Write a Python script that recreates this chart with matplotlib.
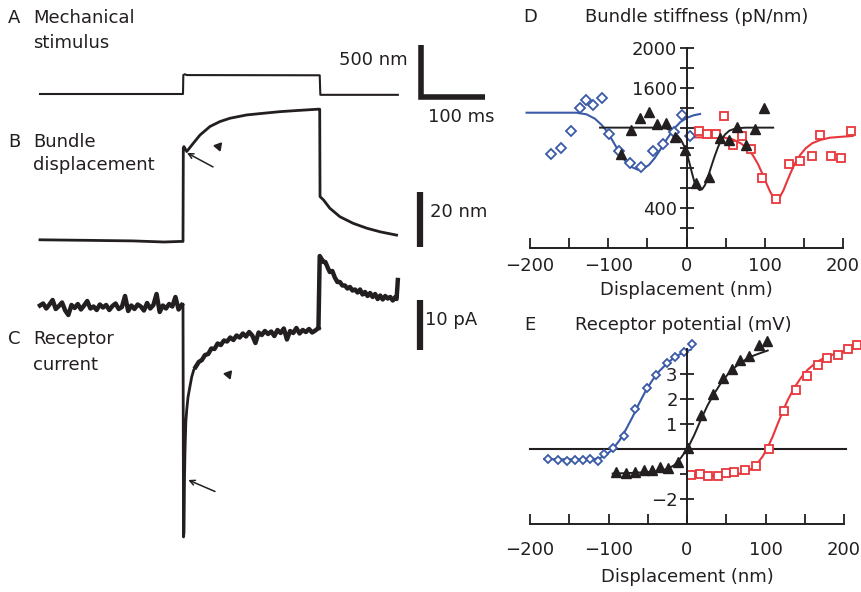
import numpy as np
import matplotlib
matplotlib.use("Agg")
import matplotlib.pyplot as plt

W, H = 862, 592
INK = "#231f20"
BLUE = "#3a5aa8"
RED = "#e8373c"

# ---------------- traces A-C (time in ms, step from 0 to 217 ms) ----------------
stim_t = [-227, 0, 0.5, 3, 6, 217, 218, 341]
stim_nm = [0, 0, 182, 190, 182, 180, -8, -8]

bundle_t = [-227, -150, -80, -30, -5, 0, 0.5, 1.5, 5.9, 16.3, 27, 42.8, 58.7, 74.6, 101,
            127, 154, 180, 215, 217, 217.5, 223, 233, 249, 270, 292, 313, 339]
bundle_nm = [0.8, 0.6, 0.4, 0.0, 0.2, 0.2, 34.2, 34.7, 32.9, 35.9, 38.9, 42.0, 43.8, 45.0, 46.2,
             46.8, 47.4, 47.8, 48.3, 48.3, 16.5, 15.3, 12.3, 9.2, 6.8, 5.0, 3.7, 2.5]

# receptor current (pA)
cur_base = [0.3, 0.7, -0.3, 0.5, 1.4, -0.4, 0.2, 0.9, -0.7, -1.6, 0.4, -0.2, 0.6, -0.5, 0.3,
            1.2, -0.3, 0.1, -0.6, 0.5, -0.1, 0.4, -0.6, 0.2, 0.7, -0.4, 0.0, 2.2, -0.8, 0.3,
            -0.4, 0.5, 0.1, -0.7, 0.8, -0.3, 0.4, 2.6, -1.0, 0.3, -0.3, 0.6, 0.1, 2.0, -0.5, 0.4]
cur_on_t = [-2, 0, 0.8, 1.6, 2.4, 3.2, 4.5, 5.9, 8, 10, 13.8, 17, 20]
cur_on = [0.4, 0.6, -46.0, -45.0, -34.0, -28.7, -23.0, -20.6, -18.0, -16.6, -14.0, -12.6, -12.0]
cur_plat = [-12.0, -11.0, -10.6, -9.6, -9.4, -8.3, -8.4, -7.3, -7.6, -6.7, -6.9, -6.1, -6.6,
            -5.7, -6.1, -5.3, -5.9, -5.0, -5.7, -7.2, -5.1, -5.6, -4.8, -5.4, -4.9, -5.8, -4.6,
            -5.2, -4.3, -6.5, -4.8, -5.2, -4.2, -5.3, -4.6, -5.0, -4.4, -5.1, -4.7, -4.2]
cur_off_t = [215, 217, 220, 223, 226, 230, 233, 237, 241, 245, 249, 253, 257, 261, 265, 269, 273,
             277, 281, 285, 289, 293, 297, 301, 305, 309, 313, 317, 321, 325, 329, 333, 337, 339, 341]
cur_off = [-4.2, 10.2, 9.6, 9.0, 9.0, 7.8, 7.0, 7.2, 5.9, 5.0, 5.0, 4.3, 4.3, 3.7, 4.0, 3.3, 3.5,
           2.9, 3.5, 2.5, 3.0, 2.2, 2.8, 2.0, 2.6, 1.6, 2.3, 1.5, 2.2, 1.7, 2.0, 1.3, 2.0, 1.6, 5.4]

# ---------------- D: bundle stiffness (pN/nm) ----------------
d_blue_x = [-172.9, -159.8, -147.6, -136.7, -127.9, -119.2, -108.3, -98.7, -86.5, -72.5,
            -58.1, -42.8, -29.7, -16.6, -5.7, 5.0]
d_blue_y = [940, 1000, 1173, 1395, 1478, 1429, 1495, 1140, 973, 847, 814, 973, 1040, 1163, 1329, 1120]
d_blue_fx = [-204.4, -173.8, -141.0, -127.9, -117.0, -108.3, -100.4, -93.0, -85.6, -78.6, -71.2,
             -62.4, -55.9, -48.0, -40.6, -33.2, -25.3, -16.6, -7.9, 0.8, 9.1, 17.4]
d_blue_fy = [1352, 1352, 1352, 1336, 1292, 1229, 1153, 1053, 953, 874, 814, 784, 791, 831, 900,
             987, 1086, 1186, 1259, 1302, 1326, 1339]

d_blk_x = [-83.4, -71.2, -59.4, -48.5, -37.6, -26.2, -14.4, -1.3, 12.4, 29.0, 42.3, 54.8, 65.1,
           75.5, 88.0, 98.8]
d_blk_y = [940, 1179, 1296, 1362, 1239, 1252, 1113, 980, 654, 714, 1096, 1080, 1213, 1030, 1186, 1395]
d_blk_fx = [-110.5, -64.6, -34.1, -25.3, -18.8, -12.2, -7.0, -2.6, 0.8, 4.1, 7.1, 10.0, 13.3, 16.6,
            19.9, 23.7, 27.8, 32.0, 36.1, 40.2, 44.4, 49.4, 54.8, 63.1, 75.5, 110.8]
d_blk_fy = [1203, 1203, 1203, 1193, 1169, 1130, 1080, 1013, 940, 841, 748, 664, 608, 581, 588,
            631, 721, 824, 920, 1007, 1080, 1136, 1173, 1196, 1203, 1203]

d_red_x = [15.4, 26.6, 37.3, 48.5, 59.8, 71.4, 82.6, 97.1, 114.9, 131.5, 145.2, 159.8, 171.0,
           184.2, 197.5, 210.0]
d_red_y = [1173, 1140, 1140, 1322, 1030, 1120, 987, 698, 492, 837, 874, 920, 1130, 920, 897, 1173]
d_red_fx = [9.1, 29.9, 46.5, 58.9, 69.3, 77.6, 84.6, 91.3, 97.1, 102.5, 107.1, 111.2, 115.4,
            119.5, 123.7, 127.8, 132.8, 138.6, 145.2, 152.3, 160.6, 171.0, 183.4, 200.0, 212.4]
d_red_fy = [1106, 1106, 1106, 1086, 1047, 997, 930, 841, 741, 641, 561, 508, 492, 515, 575,
            654, 748, 847, 930, 997, 1047, 1080, 1103, 1113, 1120]

# ---------------- E: receptor potential (mV) ----------------
e_blue_x = [-177.5, -164.8, -152.9, -142.7, -132.1, -123.1, -113.8, -105.3, -94.7, -80.7,
            -65.8, -51.0, -39.5, -25.9, -15.3, -4.2, 6.8]
e_blue_y = [-0.40, -0.42, -0.46, -0.42, -0.42, -0.40, -0.46, -0.19, 0.04, 0.54, 1.59, 2.46,
            2.99, 3.44, 3.71, 3.91, 4.21]
e_blue_fx = [-181.7, -152.0, -122.3, -111.7, -103.2, -94.7, -86.2, -77.7, -69.2, -60.7, -52.2,
             -43.7, -35.2, -26.8, -18.3, -9.8, -1.3, 5.1]
e_blue_fy = [-0.40, -0.41, -0.41, -0.37, -0.24, 0.0, 0.34, 0.79, 1.30, 1.85, 2.36, 2.78, 3.13,
             3.39, 3.62, 3.79, 3.92, 3.99]

e_blk_x = [-90.4, -77.7, -65.8, -55.2, -44.6, -34.0, -24.6, -11.9, 0.8, 17.8, 32.7, 46.3, 57.3,
           67.9, 79.4, 92.1, 101.9]
e_blk_y = [-0.93, -0.95, -0.90, -0.85, -0.82, -0.73, -0.77, -0.53, 0.03, 1.36, 2.19, 2.85, 3.22,
           3.58, 3.75, 4.17, 4.32]
e_blk_fx = [-94.7, -67.1, -37.4, -24.6, -16.1, -7.6, 0.8, 9.3, 17.8, 26.3, 34.8, 43.3, 51.8,
            60.3, 68.8, 79.4, 90.0, 102.8]
e_blk_fy = [-0.98, -0.95, -0.89, -0.79, -0.64, -0.34, 0.03, 0.57, 1.19, 1.76, 2.23, 2.65, 2.99,
            3.26, 3.47, 3.68, 3.81, 3.95]

e_red_x = [5.1, 16.6, 26.3, 39.1, 49.7, 60.3, 74.3, 87.9, 104.9, 124.0, 138.9, 152.9, 167.3,
           178.3, 191.9, 204.7, 216.6]
e_red_y = [-1.02, -1.01, -1.06, -1.06, -0.95, -0.93, -0.85, -0.69, 0.01, 1.52, 2.36, 2.95, 3.38,
           3.66, 3.79, 4.01, 4.19]
e_red_fx = [3.0, 39.1, 68.8, 79.4, 87.9, 96.4, 102.8, 109.1, 115.5, 121.9, 128.2, 136.7, 145.2,
            153.7, 164.3, 174.9, 187.7, 202.5, 217.4]
e_red_fy = [-1.06, -1.06, -0.98, -0.85, -0.65, -0.29, 0.07, 0.50, 1.01, 1.50, 1.96, 2.46, 2.86,
            3.18, 3.47, 3.66, 3.81, 3.95, 4.05]

plt.rcParams["font.family"] = "DejaVu Sans"
fig = plt.figure(figsize=(W / 100, H / 100), dpi=100)


def px_axes(x0, y0, x1, y1):
    # axes placed by pixel box (top-left origin)
    ax = fig.add_axes([x0 / W, 1 - y1 / H, (x1 - x0) / W, (y1 - y0) / H])
    ax.patch.set_alpha(0)
    return ax


def label(x, y, s, **kw):
    fig.text(x / W, 1 - y / H, s, fontsize=13, color=INK, va="center", **kw)


MS_PER_PX = 100 / 63.0
T0_PX = 183
xl = ((30 - T0_PX) * MS_PER_PX, (500 - T0_PX) * MS_PER_PX)

# A: stimulus
ax_a = px_axes(30, 35, 500, 105)
nm_px_a = 500 / 52.0
ax_a.set_ylim(-(105 - 94) * nm_px_a, (94 - 35) * nm_px_a)
ax_a.plot(stim_t, stim_nm, color=INK, lw=1.5)
ax_a.plot([378, 378, 479], [474, -26, -26], color=INK, lw=4, solid_joinstyle="miter",
          solid_capstyle="butt", clip_on=False)
ax_a.text(357, 326, "500 nm", ha="right", va="center", fontsize=13, color=INK)
ax_a.text(441, -221, "100 ms", ha="center", va="center", fontsize=13, color=INK, clip_on=False)

# B: bundle displacement
ax_b = px_axes(30, 100, 500, 250)
nm_px_b = 20 / 55.0
ax_b.set_ylim((242 - 250) * nm_px_b, (242 - 100) * nm_px_b)
ax_b.plot(bundle_t, bundle_nm, color=INK, lw=2)
ax_b.plot([376, 376], [-1.8, 18.2], color=INK, lw=4.5, solid_capstyle="butt")
ax_b.text(392, 10.9, "20 nm", ha="left", va="center", fontsize=13, color=INK)
ax_b.annotate("", xy=(6.3, 32.4), xytext=(47.6, 27.3),
              arrowprops=dict(arrowstyle="->", lw=1.1, color=INK, shrinkA=0, shrinkB=0,
                              mutation_scale=9))
ax_b.plot([56], [34.9], marker=(3, 0, 200), ms=6.5, color=INK)

# C: receptor current
ax_c = px_axes(30, 250, 500, 545)
ax_c.set_ylim((307 - 545) * 0.2, (307 - 250) * 0.2)
ax_c.plot(np.linspace(-227, -2, len(cur_base)), cur_base, color=INK, lw=3.2,
          solid_joinstyle="round")
ax_c.plot(cur_on_t, cur_on, color=INK, lw=2)
ax_c.plot(np.linspace(20, 215, len(cur_plat)), cur_plat, color=INK, lw=3.2,
          solid_joinstyle="round")
ax_c.plot(cur_off_t, cur_off, color=INK, lw=3.2, solid_joinstyle="round")
ax_c.plot([376, 376], [1.4, -8.6], color=INK, lw=4.5, solid_capstyle="butt")
ax_c.text(384, -2.6, "10 pA", ha="left", va="center", fontsize=13, color=INK)
ax_c.annotate("", xy=(8.4, -34.6), xytext=(50.8, -36.9),
              arrowprops=dict(arrowstyle="->", lw=1.1, color=INK, shrinkA=0, shrinkB=0,
                              mutation_scale=9))
ax_c.plot([72], [-13.3], marker=(3, 0, 200), ms=6.5, color=INK)

for ax in (ax_a, ax_b, ax_c):
    ax.set_xlim(*xl)
    ax.axis("off")

label(8, 18, "A")
label(33, 18, "Mechanical")
label(33, 43, "stimulus")
label(8, 142, "B")
label(33, 142, "Bundle")
label(33, 165, "displacement")
label(8, 339, "C")
label(33, 339, "Receptor")
label(33, 365, "current")


def style_xy(ax, ylo, yhi):
    for s in ("top", "right"):
        ax.spines[s].set_visible(False)
    ax.spines["left"].set_position(("data", 0))
    ax.spines["left"].set_bounds(ylo, yhi)
    ax.spines["bottom"].set_bounds(-200, 200)
    for s in ("left", "bottom"):
        ax.spines[s].set_linewidth(1.4)
        ax.spines[s].set_color(INK)
    ax.set_xlim(-200, 200)
    ax.set_ylim(ylo, yhi)
    ax.set_xticks(np.arange(-200, 201, 50))
    ax.set_xticklabels(["\u2212200", "", "\u2212100", "", "0", "", "100", "", "200"])
    ax.tick_params(axis="y", direction="inout", length=9.5, width=1.3, pad=2,
                   labelsize=13, colors=INK)


# D: bundle stiffness
ax_d = px_axes(530, 47.7, 843, 248.3)
style_xy(ax_d, 0, 2000)
ax_d.set_yticks(np.arange(200, 2001, 200))
ax_d.set_yticklabels(["" if v not in (400, 1600, 2000) else str(v) for v in range(200, 2001, 200)])
ax_d.tick_params(axis="x", direction="in", length=7, width=1.3, pad=6, labelsize=13, colors=INK)
ax_d.plot(d_blue_fx, d_blue_fy, color=BLUE, lw=1.5, clip_on=False)
ax_d.plot(d_red_fx, d_red_fy, color=RED, lw=1.5, clip_on=False)
ax_d.plot(d_blk_fx, d_blk_fy, color=INK, lw=1.4, clip_on=False)
ax_d.plot(d_blue_x, d_blue_y, ls="none", marker="D", ms=4.6, mfc="white", mec=BLUE, mew=1.3,
          clip_on=False)
ax_d.plot(d_red_x, d_red_y, ls="none", marker="s", ms=6.3, mfc="white", mec=RED, mew=1.3,
          clip_on=False)
ax_d.plot(d_blk_x, d_blk_y, ls="none", marker="^", ms=7.5, color=INK, clip_on=False)

# E: receptor potential
ax_e = px_axes(530, 349.3, 844, 524)
style_xy(ax_e, -3, 4)
ax_e.set_yticks([-2, -1, 0, 1, 2, 3])
ax_e.set_yticklabels(["\u22122", "", "", "1", "2", "3"])
ax_e.tick_params(axis="x", direction="in", length=7, width=1.3, pad=12, labelsize=13, colors=INK)
ax_e.plot([-200, 202], [0, 0], color=INK, lw=1.5, clip_on=False)
ax_e.plot(e_blue_fx, e_blue_fy, color=BLUE, lw=1.5, clip_on=False)
ax_e.plot(e_red_fx, e_red_fy, color=RED, lw=1.5, clip_on=False)
ax_e.plot(e_blk_fx, e_blk_fy, color=INK, lw=1.4, clip_on=False)
ax_e.plot(e_blue_x, e_blue_y, ls="none", marker="D", ms=4.3, mfc="white", mec=BLUE, mew=1.3,
          clip_on=False)
ax_e.plot(e_red_x, e_red_y, ls="none", marker="s", ms=5.8, mfc="white", mec=RED, mew=1.3,
          clip_on=False)
ax_e.plot(e_blk_x, e_blk_y, ls="none", marker="^", ms=7, color=INK, clip_on=False)

label(523, 17, "D")
label(585, 17, "Bundle stiffness (pN/nm)")
label(686, 290, "Displacement (nm)", ha="center")
label(524, 325, "E")
label(575, 325, "Receptor potential (mV)")
label(687, 577, "Displacement (nm)", ha="center")

fig.savefig("out.png", dpi=100)
